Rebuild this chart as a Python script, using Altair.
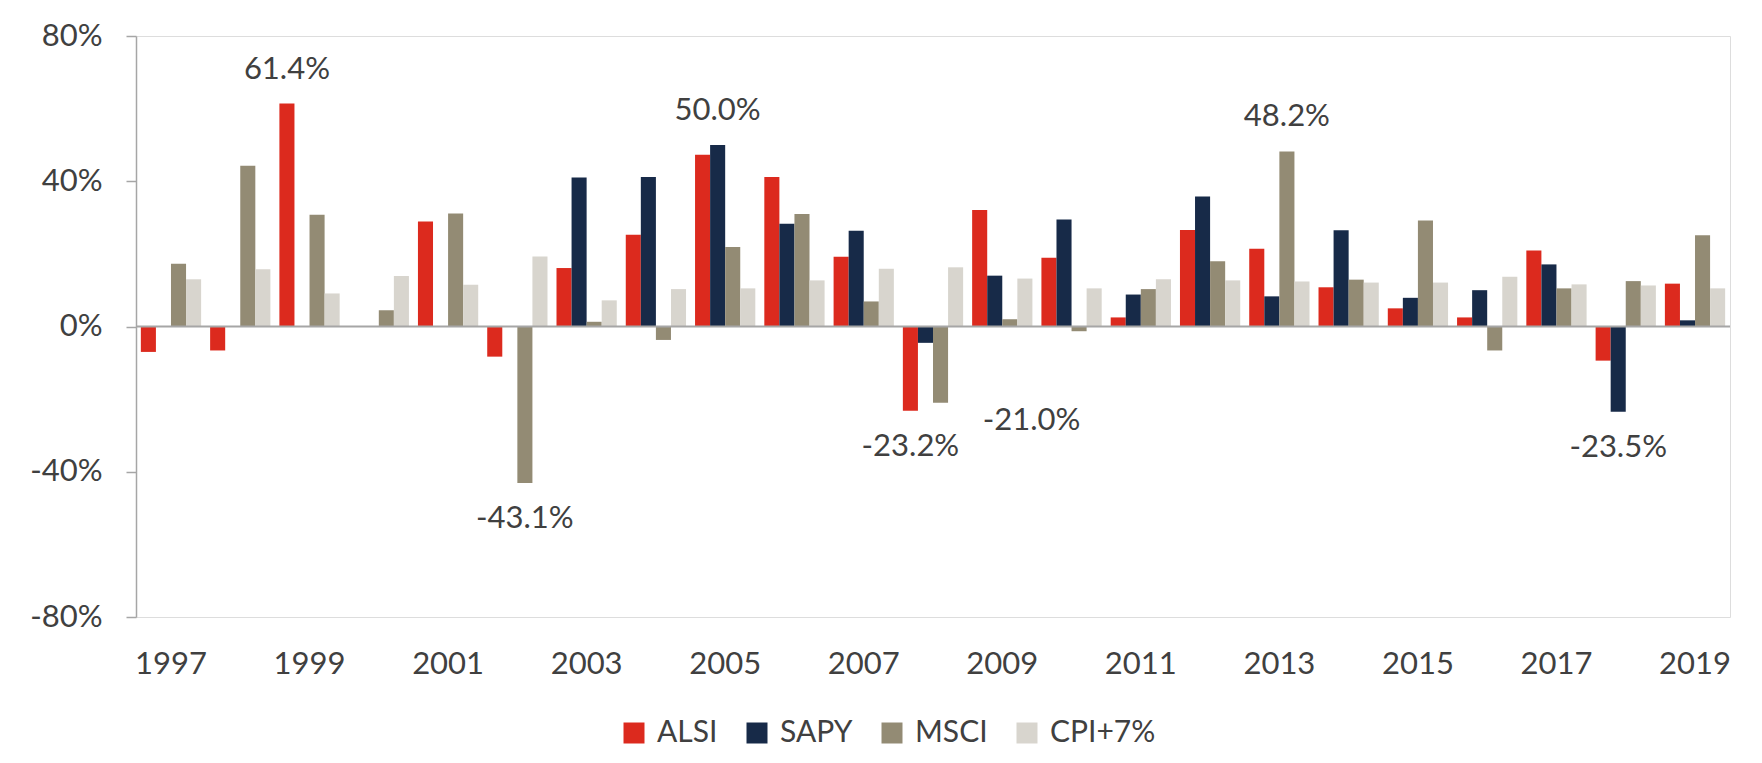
import altair as alt
import pandas as pd

years = [1997, 1998, 1999, 2000, 2001, 2002, 2003, 2004, 2005, 2006, 2007, 2008,
         2009, 2010, 2011, 2012, 2013, 2014, 2015, 2016, 2017, 2018, 2019]
series = ["ALSI", "SAPY", "MSCI", "CPI+7%"]
colors = ["#DC2A1E", "#172A48", "#938B74", "#D8D5CE"]

alsi = [-7.0, -6.6, 61.4, None, 28.9, -8.3, 16.1, 25.3, 47.3, 41.2, 19.2, -23.2,
        32.1, 18.9, 2.5, 26.6, 21.4, 10.8, 5.0, 2.5, 20.9, -9.4, 11.8]
sapy = [None, None, None, None, None, None, 41.0, 41.2, 50.0, 28.3, 26.4, -4.5,
        14.0, 29.5, 8.8, 35.8, 8.3, 26.5, 7.9, 10.0, 17.1, -23.5, 1.7]
msci = [17.3, 44.3, 30.8, 4.5, 31.1, -43.1, 1.3, -3.7, 21.9, 31.0, 6.9, -21.0,
        2.0, -1.3, 10.3, 18.0, 48.2, 12.9, 29.2, -6.6, 10.5, 12.5, 25.1]
cpi = [13.0, 15.8, 9.1, 13.9, 11.5, 19.3, 7.2, 10.3, 10.5, 12.7, 15.9, 16.3,
       13.2, 10.5, 13.0, 12.7, 12.4, 12.1, 12.1, 13.7, 11.6, 11.3, 10.5]

y_ticks = [-80, -40, 0, 40, 80]
x_label_years = [1997, 1999, 2001, 2003, 2005, 2007, 2009, 2011, 2013, 2015, 2017, 2019]

# annotated bars
ann_years = [1999, 2005, 2013, 2002, 2008, 2018]
ann_series = ["ALSI", "SAPY", "MSCI", "MSCI", "ALSI", "SAPY"]
side_year = [2008]
side_series = ["MSCI"]

rows = []
for name, vals in zip(series, [alsi, sapy, msci, cpi]):
    for yr, v in zip(years, vals):
        if v is not None:
            rows.append({"Year": str(yr), "Series": name, "Value": v})
df = pd.DataFrame(rows)


def pick(ys, ss):
    out = []
    for yr, s in zip(ys, ss):
        r = df[(df.Year == str(yr)) & (df.Series == s)].iloc[0]
        out.append({"Year": r.Year, "Series": s, "Value": r.Value,
                    "Label": f"{r.Value:.1f}%"})
    return pd.DataFrame(out)


ann = pick(ann_years, ann_series)
ann_pos = ann[ann.Value > 0]
ann_neg = ann[ann.Value < 0]
ann_side = pick(side_year, side_series)

FONT = "Lato"
TXT = "#404040"
GRID = "#A6A6A6"
year_sort = [str(y) for y in years]

x_enc = alt.X("Year:N", sort=year_sort,
              scale=alt.Scale(paddingInner=0.13, paddingOuter=0.07),
              axis=alt.Axis(title=None, domain=False, ticks=False, labelAngle=0,
                            values=[str(y) for y in x_label_years],
                            labelFontSize=31, labelColor=TXT, labelFont=FONT,
                            labelPadding=32, labelOverlap=False))
xo_enc = alt.XOffset("Series:N", sort=series)
y_enc = alt.Y("Value:Q", scale=alt.Scale(domain=[-80, 80], nice=False),
              axis=alt.Axis(values=y_ticks, labelExpr="datum.value + '%'", grid=False,
                            title=None, tickSize=10, tickColor=GRID, domainColor=GRID,
                            tickWidth=1.5, domainWidth=1.5,
                            labelFontSize=31, labelPadding=24, labelColor=TXT,
                            labelFont=FONT))

bars = alt.Chart(df).mark_bar().encode(
    x=x_enc, xOffset=xo_enc, y=y_enc,
    color=alt.Color("Series:N", sort=series,
                    scale=alt.Scale(domain=series, range=colors),
                    legend=alt.Legend(title=None, orient="none", direction="horizontal",
                                      legendX=483, legendY=682,
                                      symbolType="square", symbolSize=441,
                                      symbolStrokeWidth=0, labelFontSize=30,
                                      labelFont=FONT, labelColor=TXT, labelOffset=8,
                                      columnPadding=24)),
)

zero = alt.Chart(pd.DataFrame({"v": [0]})).mark_rule(color=GRID, strokeWidth=2).encode(
    y=alt.Y("v:Q"))

def text_layer(data, dx, dy):
    return alt.Chart(data).mark_text(font=FONT, fontSize=31, color=TXT, dx=dx, dy=dy,
                                     baseline="middle", align="center").encode(
        x=alt.X("Year:N", sort=year_sort), xOffset=alt.XOffset("Series:N", sort=series),
        y=alt.Y("Value:Q"), text="Label:N")

chart = alt.layer(
    bars, zero,
    text_layer(ann_pos, 0, -34),
    text_layer(ann_neg, 0, 36),
    text_layer(ann_side, 91, 18),
).properties(
    width=1594, height=581,
    autosize=alt.AutoSizeParams(type="none"),
    padding={"left": 128, "top": 28, "right": 20, "bottom": 137},
).configure_view(stroke=None).configure(background="white")

chart.save("out.html", embed_options={"renderer": "svg", "actions": False})
